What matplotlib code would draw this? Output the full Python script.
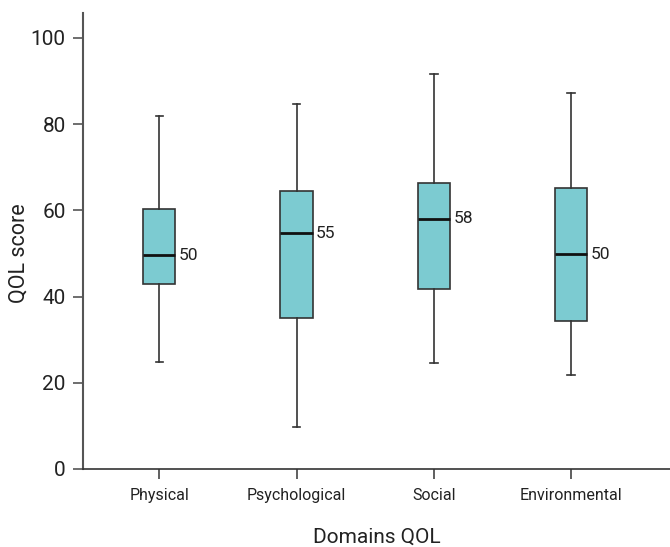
import matplotlib
matplotlib.use("Agg")
import matplotlib.pyplot as plt

plt.rcParams['font.family'] = ['Roboto', 'DejaVu Sans']

categories = ["Physical", "Psychological", "Social", "Environmental"]
whislo = [24.9, 9.8, 24.7, 21.7]
q1 = [42.9, 35.0, 41.8, 34.3]
med = [49.6, 54.7, 58.1, 49.8]
q3 = [60.3, 64.6, 66.3, 65.3]
whishi = [82.0, 84.7, 91.6, 87.3]
median_labels = ["50", "55", "58", "50"]
yticks = [0, 20, 40, 60, 80, 100]

fig = plt.figure(figsize=(6.70, 5.47), dpi=100)
ax = fig.add_axes([83/670, 1-469/547, 1-83/670, (469-13)/547])

stats = []
for i, c in enumerate(categories):
    stats.append(dict(label=c, whislo=whislo[i], q1=q1[i], med=med[i], q3=q3[i], whishi=whishi[i], fliers=[]))

positions = list(range(1, len(categories)+1))
bw = 0.235
ax.bxp(stats, positions=positions, widths=bw, patch_artist=True, showfliers=False,
       capwidths=0.055,
       boxprops=dict(facecolor='#7ccbd1', edgecolor='#333333', linewidth=1.2),
       medianprops=dict(color='#111111', linewidth=2.0),
       whiskerprops=dict(color='#333333', linewidth=1.2),
       capprops=dict(color='#333333', linewidth=1.2))

for p, m, lab in zip(positions, med, median_labels):
    ax.text(p + bw/2 + 0.025, m, lab, ha='left', va='center', fontsize=12.5, color='#222222')

ax.set_xlim(0.444, 4.72)
ax.set_ylim(0, 105.8)
ax.set_yticks(yticks)
ax.set_xticks(positions)
ax.set_xticklabels(categories)
ax.tick_params(axis='y', labelsize=15, length=7.5, width=1.2, color='#555555', labelcolor='#222222', pad=5)
ax.tick_params(axis='x', labelsize=11.5, length=7.5, width=1.2, color='#444444', labelcolor='#222222', pad=6)
for s in ['top', 'right']:
    ax.spines[s].set_visible(False)
ax.spines['left'].set_color('#555555')
ax.spines['left'].set_linewidth(1.5)
ax.spines['bottom'].set_color('#333333')
ax.spines['bottom'].set_linewidth(1.2)

ax.set_ylabel("QOL score", fontsize=15.5, color='#222222')
ax.yaxis.label.set_va('center')
ax.yaxis.set_label_coords((19 - 83) / 587, (469 - 253) / 456)
ax.set_xlabel("Domains QOL", fontsize=15, color='#222222', labelpad=18)

fig.savefig("out.png", dpi=100)
